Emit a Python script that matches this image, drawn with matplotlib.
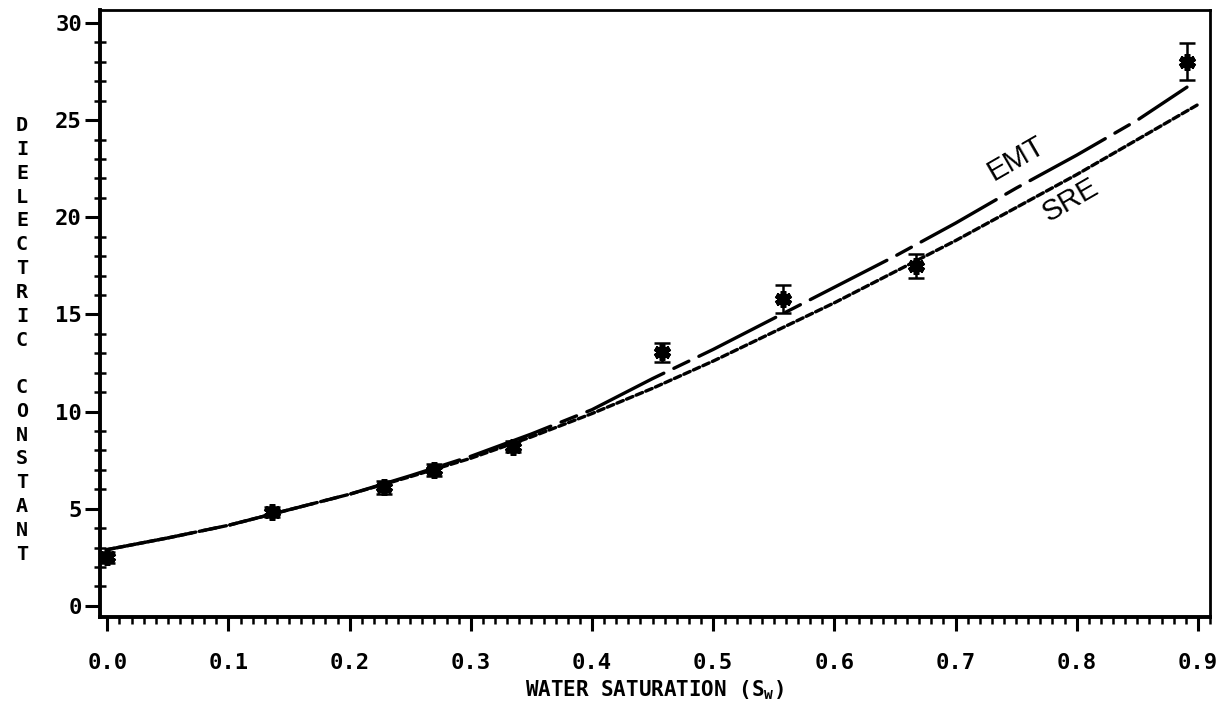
import matplotlib
matplotlib.use("Agg")
import matplotlib.pyplot as plt
import numpy as np
from matplotlib.ticker import MultipleLocator

# measured points
sw_meas = [0.0, 0.136, 0.228, 0.270, 0.335, 0.458, 0.558, 0.667, 0.891]
eps_meas = [2.5, 4.85, 6.1, 7.0, 8.2, 13.05, 15.8, 17.5, 28.0]
eps_err = [0.3, 0.25, 0.35, 0.3, 0.3, 0.5, 0.7, 0.6, 0.95]

# model curves
sw_emt = [0.0, 0.05, 0.1, 0.15, 0.2, 0.25, 0.3, 0.35, 0.4, 0.45, 0.5,
          0.55, 0.6, 0.65, 0.7, 0.75, 0.8, 0.85, 0.891]
eps_emt = [2.9, 3.5, 4.15, 4.95, 5.75, 6.7, 7.7, 8.85, 10.1, 11.7, 13.2,
           14.8, 16.4, 18.0, 19.7, 21.5, 23.2, 25.0, 26.7]
sw_sre = [0.0, 0.05, 0.1, 0.15, 0.2, 0.25, 0.3, 0.35, 0.4, 0.45, 0.5,
          0.55, 0.6, 0.65, 0.7, 0.75, 0.8, 0.85, 0.9]
eps_sre = [2.9, 3.5, 4.15, 4.95, 5.75, 6.65, 7.6, 8.7, 9.9, 11.2, 12.6,
           14.1, 15.6, 17.2, 18.8, 20.5, 22.2, 24.0, 25.8]

x_ticks = [0.0, 0.1, 0.2, 0.3, 0.4, 0.5, 0.6, 0.7, 0.8, 0.9]
y_ticks = [0, 5, 10, 15, 20, 25, 30]

plt.rcParams['lines.scale_dashes'] = False
mono = 'DejaVu Sans Mono'

fig = plt.figure(figsize=(12.26, 7.2), dpi=100)
ax = fig.add_axes([100/1226, 1 - 617/720, 1110/1226, 607/720])

ax.plot(sw_emt, eps_emt, color='black', lw=2.4, dashes=(62, 8, 12, 8),
        solid_capstyle='round', dash_capstyle='round')
ax.plot(sw_sre, eps_sre, color='black', lw=2.4, dashes=(5, 2.5),
        dash_capstyle='round')

ax.errorbar(sw_meas, eps_meas, yerr=eps_err, fmt='none', ecolor='black',
            elinewidth=1.8, capsize=6, capthick=1.8)
ax.plot(sw_meas, eps_meas, linestyle='none', marker=(6, 2, 0), ms=12,
        mec='black', mew=4, color='black')

ax.text(0.75, 23.0, 'EMT', fontsize=21, rotation=30, ha='center', va='center',
        family='Liberation Sans')
ax.text(0.795, 20.9, 'SRE', fontsize=21, rotation=30, ha='center', va='center',
        family='Liberation Sans')

ax.set_xlim(-0.006, 0.91)
ax.set_ylim(-0.57, 30.67)
ax.set_xticks(x_ticks)
ax.set_xticklabels([f'{v:.1f}' for v in x_ticks])
ax.set_yticks(y_ticks)
ax.set_yticklabels([str(v) for v in y_ticks])
ax.xaxis.set_minor_locator(MultipleLocator(0.01))
ax.yaxis.set_minor_locator(MultipleLocator(1))

ax.tick_params(axis='both', which='major', direction='out', width=2.2, color='black')
ax.tick_params(axis='x', which='major', length=10, pad=16)
ax.tick_params(axis='y', which='major', length=11, pad=2)
ax.tick_params(axis='x', which='minor', direction='out', length=5, width=1.8)
ax.tick_params(axis='y', which='minor', direction='inout', length=8, width=1.8)
for lab in ax.get_xticklabels() + ax.get_yticklabels():
    lab.set_family(mono)
    lab.set_fontweight('bold')
    lab.set_fontsize(16)

for side in ['left', 'bottom']:
    ax.spines[side].set_linewidth(2.8)
for side in ['top', 'right']:
    ax.spines[side].set_linewidth(2.0)

ax.set_xlabel('WATER SATURATION (S$_\\mathregular{w}$)', family=mono,
              fontweight='bold', fontsize=15, labelpad=4)
fig.text(22/1226, 1 - 340/720, '\n'.join('DIELECTRIC CONSTANT'), family=mono,
         fontweight='bold', fontsize=14.5, ha='center', va='center', linespacing=1.32)

fig.savefig('out.png', dpi=100)
